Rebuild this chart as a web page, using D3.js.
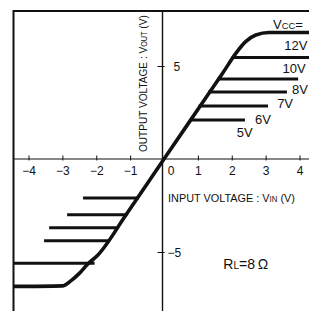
<!DOCTYPE html>
<html>
<head>
<meta charset="utf-8">
<script src="https://cdn.jsdelivr.net/npm/d3@7"></script>
<style>
  body { margin: 0; background: #fff; }
</style>
</head>
<body>
<div id="chart"></div>
<script>
// transfer curve for the highest supply (VIN, VOUT in volts)
var mainVin  = [-4.5, -3.0, -2.75, -2.5, -2.25, -1.95, -1.12, 0, 1.19, 1.73, 2.12, 2.41, 2.71, 3.1, 4.6];
var mainVout = [-6.85, -6.82, -6.55, -6.15, -5.65, -5.16, -3.0, 0, 3.17, 4.61, 5.68, 6.31, 6.67, 6.8, 6.8];

// clipping levels of the lower supplies
var posLevel = [5.46, 4.3, 3.6, 2.85, 2.1];
var posStart = [2.0, 1.57, 1.3, 1.02, 0.75];
var posEnd   = [4.6, 3.96, 3.63, 3.07, 2.39];

var negLevel = [-2.1, -3.0, -3.7, -4.4, -5.6];
var negStart = [-2.39, -2.86, -3.39, -3.54, -4.6];
var negEnd   = [-0.75, -1.08, -1.35, -1.6, -2.05];

var vccLabels = ["VCC=", "12V", "10V", "8V", "7V", "6V", "5V"];
var labelVin  = [3.22, 3.55, 3.5, 3.78, 3.34, 2.69, 2.15];
var labelVout = [6.99, 5.86, 4.62, 3.49, 2.74, 1.88, 1.18];

var xTicks = [-4, -3, -2, -1, 1, 2, 3, 4];
var yTicks = [-5, 5];

var width = 309, height = 311;
var frame = {left: 13.5, top: 11};
var font = "'Liberation Sans', Arial, Helvetica, sans-serif";
var ink = "#111";

var svg = d3.select("#chart").append("svg")
  .attr("width", width)
  .attr("height", height)
  .style("display", "block");

var x = d3.scaleLinear().domain([-4, 4]).range([28.5, 299.5]);
var y = d3.scaleLinear().domain([-5, 5]).range([252, 66]);

svg.append("defs").append("clipPath")
  .attr("id", "clip")
  .append("rect")
  .attr("x", frame.left)
  .attr("y", frame.top)
  .attr("width", width - frame.left)
  .attr("height", height - frame.top);

var g = svg.append("g").attr("clip-path", "url(#clip)");

// axis lines
g.append("line")
  .attr("x1", frame.left).attr("x2", width)
  .attr("y1", y(0)).attr("y2", y(0))
  .attr("stroke", ink).attr("stroke-width", 1.2);
g.append("line")
  .attr("x1", x(0) - 1.5).attr("x2", x(0) - 1.5)
  .attr("y1", frame.top).attr("y2", height)
  .attr("stroke", ink).attr("stroke-width", 1.4);

// x ticks
var xAxis = g.append("g")
  .attr("transform", "translate(0," + y(0) + ")")
  .call(d3.axisBottom(x).tickValues(xTicks).tickSize(3)
    .tickFormat(function(d) { return d < 0 ? "\u2212" + (-d) : d; }));
xAxis.attr("font-family", font).attr("font-size", 12);
xAxis.select(".domain").remove();
xAxis.selectAll(".tick line").attr("y1", -3.5).attr("y2", 1.5).attr("stroke", ink);
xAxis.selectAll(".tick text").attr("y", 16).attr("dy", null).attr("fill", ink);
xAxis.append("text")
  .attr("x", x(0) + 7).attr("y", 16)
  .attr("text-anchor", "middle")
  .attr("fill", ink)
  .text("0");

// y ticks
var yAxis = g.append("g")
  .attr("transform", "translate(" + (x(0) - 1.5) + ",0)")
  .call(d3.axisRight(y).tickValues(yTicks).tickSize(3)
    .tickFormat(function(d) { return d < 0 ? "\u2212" + (-d) : d; }));
yAxis.attr("font-family", font).attr("font-size", 12);
yAxis.select(".domain").remove();
yAxis.selectAll(".tick line").attr("x1", -5).attr("x2", 2).attr("stroke", ink);
yAxis.selectAll(".tick text")
  .attr("x", function(d) { return d < 0 ? 5 : 11; })
  .attr("dy", "0.38em")
  .attr("text-anchor", "start")
  .attr("fill", ink);

// curves
var line = d3.line()
  .x(function(d) { return x(d[0]); })
  .y(function(d) { return y(d[1]); })
  .curve(d3.curveMonotoneX);

var levels = posLevel.map(function(v, i) {
  return {level: v, a: posStart[i], b: posEnd[i]};
}).concat(negLevel.map(function(v, i) {
  return {level: v, a: negStart[i], b: negEnd[i]};
}));

g.selectAll(".level")
  .data(levels).enter()
  .append("line")
  .attr("class", "level")
  .attr("x1", function(d) { return x(d.a); })
  .attr("x2", function(d) { return x(d.b); })
  .attr("y1", function(d) { return y(d.level); })
  .attr("y2", function(d) { return y(d.level); })
  .attr("stroke", ink)
  .attr("stroke-width", 3);

g.append("path")
  .datum(mainVin.map(function(v, i) { return [v, mainVout[i]]; }))
  .attr("d", line)
  .attr("fill", "none")
  .attr("stroke", ink)
  .attr("stroke-width", 3.6);

// helper for text with small caps suffixes, parts = [[text, small], ...]
function rich(sel, parts, size) {
  parts.forEach(function(p) {
    sel.append("tspan")
      .attr("font-size", p[1] ? size * 0.72 : size)
      .text(p[0]);
  });
  return sel;
}

// squeeze a text to a given length (the titles use a condensed face)
function squeeze(sel, len, tx, ty, rot) {
  var w = sel.node().getComputedTextLength();
  sel.attr("transform", "translate(" + tx + "," + ty + ")" +
    (rot ? " rotate(" + rot + ")" : "") + " scale(" + (len / w) + ",1)");
}

// supply labels
g.selectAll(".vcc")
  .data(vccLabels).enter()
  .append("text")
  .attr("class", "vcc")
  .attr("x", function(d, i) { return x(labelVin[i]); })
  .attr("y", function(d, i) { return y(labelVout[i]); })
  .attr("font-family", font)
  .attr("fill", ink)
  .each(function(d) {
    var t = d3.select(this);
    if (d.indexOf("VCC") == 0) rich(t, [["V", 0], ["CC", 1], [d.slice(3), 0]], 13);
    else rich(t, [[d, 0]], 13);
  });

// axis titles
var outTitle = g.append("text")
  .attr("font-family", font)
  .attr("fill", ink);
rich(outTitle, [["OUTPUT  VOLTAGE : V", 0], ["OUT", 1], ["  (V)", 0]], 11.5);
squeeze(outTitle, 137, x(0) - 17, 152, -90);

var inTitle = g.append("text")
  .attr("font-family", font)
  .attr("fill", ink);
rich(inTitle, [["INPUT VOLTAGE : V", 0], ["IN", 1], ["  (V)", 0]], 11.5);
squeeze(inTitle, 127, x(0) + 4, y(0) + 43);

var rl = g.append("text")
  .attr("x", x(1.75))
  .attr("y", y(-5.9))
  .attr("font-family", font)
  .attr("fill", ink);
rich(rl, [["R", 0], ["L", 1], ["=8\u2009\u03A9", 0]], 14);

// frame (left and top edges, the rest runs off the picture)
svg.append("path")
  .attr("d", "M" + frame.left + "," + height + "V" + frame.top + "H" + width)
  .attr("fill", "none")
  .attr("stroke", ink)
  .attr("stroke-width", 2);
</script>
</body>
</html>
